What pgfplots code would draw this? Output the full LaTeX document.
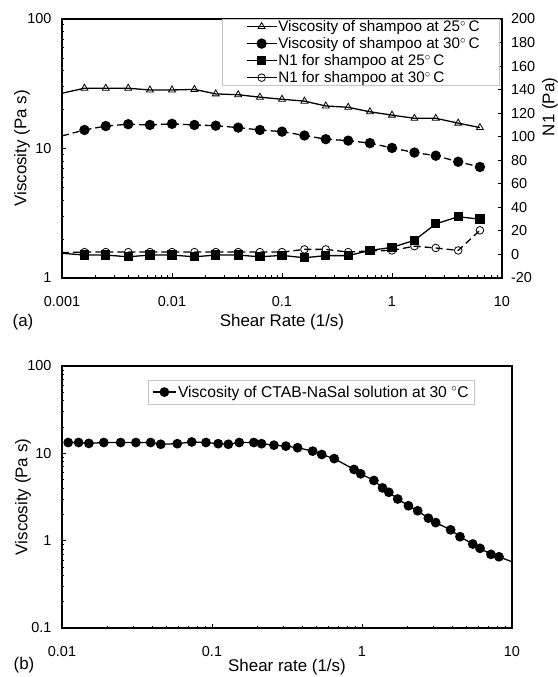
\documentclass[border=0pt]{standalone}
\usepackage{fontspec}
\setmainfont{Liberation Sans}
\usepackage{pgfplots}
\pgfplotsset{compat=1.18}
\pgfplotsset{
  myaxis/.style={
    scale only axis,
    /pgf/number format/assume math mode=true,
    tick label style={font=\fontsize{14.5}{16}\selectfont},
    label style={font=\fontsize{17}{19}\selectfont},
    axis line style={line width=1.3bp},
    tick align=inside,
    major tick length=4.5bp, minor tick length=2.5bp,
    tick style={black, line width=0.9bp},
    xticklabel style={yshift=-15bp},
  },
  legA/.style={legend image code/.code={\path (-5bp,0bp); \draw[mark repeat=2,mark phase=2] plot coordinates {(0bp,0bp) (15bp,0bp) (30bp,0bp)};}},
  legB/.style={legend image code/.code={\draw[mark repeat=2,mark phase=2] plot coordinates {(0bp,0bp) (11.5bp,0bp) (23bp,0bp)};}},
}
\begin{document}
\begin{tikzpicture}
\useasboundingbox (0,0) rectangle (558bp,677bp);
% ---------- (a) left axis ----------
\begin{axis}[myaxis,
  at={(62bp,399bp)}, anchor=south west,
  width=440bp, height=259bp,
  xmode=log, ymode=log,
  xmin=0.001, xmax=10, ymin=1, ymax=100,
  xtick={0.001,0.01,0.1,1,10}, xticklabels={0.001,0.01,0.1,1,10},
  ytick={1,10,100}, yticklabels={1,10,100},
  xtick pos=left, ytick pos=left,
  yticklabel style={xshift=-7bp},
  xlabel={Shear Rate (1/s)}, ylabel={Viscosity (Pa s)},
  xlabel style={at={([yshift=-44bp]axis description cs:0.5,0)}, anchor=center},
  ylabel style={at={([xshift=-40bp]axis description cs:0,0.5)}, anchor=center},
]
\addplot[black, line width=1.3bp] coordinates {(0.001,26.7) (0.0016,29.2)};
\addplot[black, line width=1.3bp, mark=triangle, mark size=4bp, mark options={solid, fill=white, line width=0.8bp}] coordinates {
(0.0016,29.2) (0.0025,29.2) (0.004,29.2) (0.0063,28.3) (0.01,28.3) (0.016,28.6) (0.025,26.4) (0.04,26.0) (0.063,24.9) (0.1,24.0)
(0.16,23.2) (0.25,21.3) (0.4,20.8) (0.63,19.2) (1,18.1) (1.6,17.1) (2.5,17.1) (4,15.7) (6.3,14.5)};
\addplot[black, line width=1.3bp, dash pattern=on 7bp off 4bp] coordinates {(0.001,12.5) (0.0016,13.9)};
\addplot[black, line width=1.3bp, dash pattern=on 7bp off 4bp, mark=*, mark size=4.5bp, mark options={solid}] coordinates {
(0.0016,13.9) (0.0025,14.9) (0.004,15.4) (0.0063,15.2) (0.01,15.5) (0.016,15.2) (0.025,15.0) (0.04,14.5) (0.063,13.9) (0.1,13.5)
(0.16,12.6) (0.25,11.8) (0.4,11.5) (0.63,11.0) (1,10.1) (1.6,9.3) (2.5,8.8) (4,7.9) (6.3,7.2)};
\end{axis}
% ---------- (a) right axis ----------
\begin{axis}[myaxis,
  at={(62bp,399bp)}, anchor=south west,
  width=440bp, height=259bp,
  xmode=log, xmin=0.001, xmax=10,
  ymin=-20, ymax=200, ytick={-20,0,20,40,60,80,100,120,140,160,180,200},
  axis x line=none, axis y line*=right,
  yticklabel style={xshift=5.5bp},
  legA,
  legend style={at={([xshift=-2bp]axis description cs:1,1)}, anchor=north east, draw=gray!45, line width=0.6bp,
    font=\fontsize{15.3}{17}\selectfont, row sep=2.5bp, inner xsep=19bp, inner ysep=0bp,
    nodes={inner sep=1bp}, cells={anchor=west}},
]
\addlegendimage{legA, black, line width=1.3bp, mark=triangle, mark size=4bp, mark options={fill=white, line width=0.8bp}}
\addlegendimage{legA, black, line width=1.3bp, mark=*, mark size=4.5bp}
\addlegendimage{legA, black, line width=1.3bp, mark=square*, mark size=4bp}
\addlegendimage{legA, black, line width=1.3bp, mark=o, mark size=3.8bp, mark options={fill=white, line width=0.8bp}}
\addplot[forget plot, black, line width=1.3bp] coordinates {(0.001,1) (0.0016,-0.5)};
\addplot[forget plot, black, line width=1.3bp, mark=square*, mark size=4bp] coordinates {
(0.0016,-0.5) (0.0025,-0.5) (0.004,-2) (0.0063,-0.5) (0.01,-0.5) (0.016,-2) (0.025,-0.5) (0.04,-0.5) (0.063,-2) (0.1,-0.8)
(0.16,-2.8) (0.25,-1) (0.4,-1) (0.63,3.4) (1,6) (1.6,12) (2.5,26) (4,32) (6.3,30)};
\addplot[forget plot, black, line width=1.3bp, dash pattern=on 7bp off 4bp] coordinates {(0.001,1.5) (0.0016,2)};
\addplot[forget plot, black, line width=1.3bp, dash pattern=on 7bp off 4bp, mark=o, mark size=3.8bp, mark options={solid, fill=white, line width=0.8bp}] coordinates {
(0.0016,2) (0.0025,2) (0.004,2) (0.0063,2) (0.01,2) (0.016,2) (0.025,2) (0.04,2) (0.063,2) (0.1,2)
(0.16,4.3) (0.25,4.3) (0.4,2) (0.63,3) (1,3.4) (1.6,7) (2.5,5.5) (4,3.4) (6.3,20.5)};
\legend{Viscosity of shampoo at 25$^{\circ}$\,C, Viscosity of shampoo at 30$^{\circ}$\,C, N1 for shampoo at 25$^{\circ}$\,C, N1 for shampoo at 30$^{\circ}$\,C}
\end{axis}
\node[rotate=90, font=\fontsize{17}{19}\selectfont, anchor=center] at (550bp,570bp) {N1 (Pa)};
\node[font=\fontsize{17}{19}\selectfont] at (23bp,355bp) {(a)};
% ---------- (b) ----------
\begin{axis}[myaxis,
  at={(62bp,49bp)}, anchor=south west,
  width=450bp, height=262bp,
  xmode=log, ymode=log, xmin=0.01, xmax=10, ymin=0.1, ymax=100,
  xtick={0.01,0.1,1,10}, xticklabels={0.01,0.1,1,10},
  ytick={0.1,1,10,100}, yticklabels={0.1,1,10,100},
  xtick pos=left, ytick pos=left,
  yticklabel style={xshift=-7bp},
  xlabel={Shear rate (1/s)}, ylabel={Viscosity (Pa s)},
  xlabel style={at={([yshift=-39bp]axis description cs:0.5,0)}, anchor=center},
  ylabel style={at={([xshift=-39bp]axis description cs:0,0.5)}, anchor=center},
  legB,
  legend style={at={(0.191,0.947)}, anchor=north west, draw=gray!45, line width=0.6bp,
    font=\fontsize{15.7}{17}\selectfont, inner sep=4bp, nodes={inner sep=1.5bp}},
]
\addplot[legB, black, line width=1.3bp, mark=*, mark size=4.2bp] coordinates {
(0.0110,13.3) (0.0129,13.3) (0.0151,13.0) (0.019,13.3) (0.0246,13.3) (0.0311,13.3) (0.039,13.3) (0.0455,12.7) (0.0587,12.9) (0.0733,13.5)
(0.0912,13.3) (0.110,12.9) (0.1285,12.7) (0.152,13.3) (0.19,13.3) (0.214,12.9) (0.259,12.4) (0.311,12.1) (0.372,11.6) (0.469,10.6)
(0.539,9.7) (0.653,8.7) (0.885,6.54) (0.98,5.83) (1.20,4.89) (1.37,4.02) (1.51,3.58) (1.73,3.0) (2.04,2.51) (2.35,2.20)
(2.77,1.81) (3.10,1.61) (3.90,1.33) (4.5,1.11) (5.47,0.916) (6.12,0.817) (7.24,0.697) (8.19,0.654)};
\addlegendentry{Viscosity of CTAB-NaSal solution at 30 $^{\circ}$C}
\addplot[forget plot, black, line width=1.3bp] coordinates {(8.19,0.654) (10,0.573)};
\end{axis}
\node[font=\fontsize{17}{19}\selectfont] at (24bp,12bp) {(b)};
\end{tikzpicture}
\end{document}
